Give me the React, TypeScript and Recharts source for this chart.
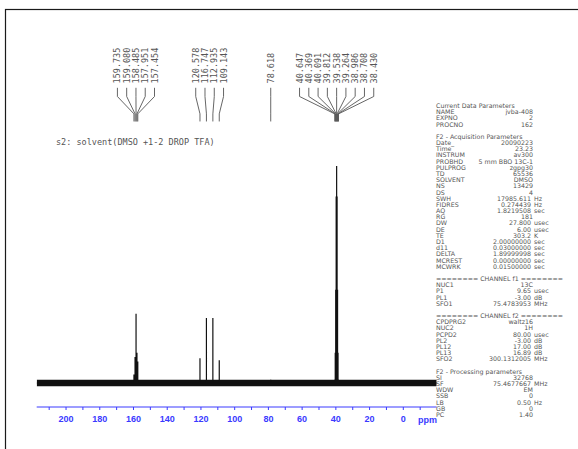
import React from 'react';
import { ComposedChart, Line, Scatter, XAxis, YAxis } from 'recharts';

// picked 13C shifts (ppm), left to right, with peak heights (DMSO centre line = 100)
const carbonylShifts = [159.735, 159.08, 158.485, 157.951, 157.454];
const carbonylHeights = [4, 12, 32, 14, 10];
const cf3Shifts = [120.578, 116.747, 112.935, 109.143];
const cf3Heights = [11.5, 30, 30, 10.5];
const singleShifts = [78.618];
const singleHeights = [1.5];
const dmsoShifts = [40.647, 40.369, 40.091, 39.812, 39.538, 39.264, 38.986, 38.708, 38.43];
const dmsoHeights = [1.5, 14, 43, 86, 100, 86, 43, 14, 1.5];

const ppmTicks = [210, 200, 190, 180, 170, 160, 150, 140, 130, 120, 110, 100, 90, 80, 70, 60, 50, 40, 30, 20, 10, 0, -10];
const ppmLabels = [200, 180, 160, 140, 120, 100, 80, 60, 40, 20, 0];

const titleText = 's2: solvent(DMSO +1-2 DROP TFA)';

const paramRows: string[][] = [
  ['Current Data Parameters'],
  ['NAME', 'jvba-408'],
  ['EXPNO', '2'],
  ['PROCNO', '162'],
  [],
  ['F2 - Acquisition Parameters'],
  ['Date_', '20090223'],
  ['Time', '23.23'],
  ['INSTRUM', 'av300'],
  ['PROBHD', '5 mm BBO 13C-1'],
  ['PULPROG', 'zgpg30'],
  ['TD', '65536'],
  ['SOLVENT', 'DMSO'],
  ['NS', '13429'],
  ['DS', '4'],
  ['SWH', '17985.611', 'Hz'],
  ['FIDRES', '0.274439', 'Hz'],
  ['AQ', '1.8219508', 'sec'],
  ['RG', '181'],
  ['DW', '27.800', 'usec'],
  ['DE', '6.00', 'usec'],
  ['TE', '303.2', 'K'],
  ['D1', '2.00000000', 'sec'],
  ['d11', '0.03000000', 'sec'],
  ['DELTA', '1.89999998', 'sec'],
  ['MCREST', '0.00000000', 'sec'],
  ['MCWRK', '0.01500000', 'sec'],
  [],
  ['======== CHANNEL f1 ========'],
  ['NUC1', '13C'],
  ['P1', '9.65', 'usec'],
  ['PL1', '-3.00', 'dB'],
  ['SFO1', '75.4783953', 'MHz'],
  [],
  ['======== CHANNEL f2 ========'],
  ['CPDPRG2', 'waltz16'],
  ['NUC2', '1H'],
  ['PCPD2', '80.00', 'usec'],
  ['PL2', '-3.00', 'dB'],
  ['PL12', '17.00', 'dB'],
  ['PL13', '16.89', 'dB'],
  ['SFO2', '300.1312005', 'MHz'],
  [],
  ['F2 - Processing parameters'],
  ['SI', '32768'],
  ['SF', '75.4677667', 'MHz'],
  ['WDW', 'EM'],
  ['SSB', '0'],
  ['LB', '0.50', 'Hz'],
  ['GB', '0'],
  ['PC', '1.40'],
];

const PPM_LEFT = 217.4;
const PPM_RIGHT = -19.8;
const AXIS_BLUE = '#3a3aff';
const LABEL_GAP = 5.5; // ppm between neighbouring peak labels
const LABEL_LEVEL = 138;

const groups = [
  { shifts: carbonylShifts, heights: carbonylHeights },
  { shifts: cf3Shifts, heights: cf3Heights },
  { shifts: singleShifts, heights: singleHeights },
  { shifts: dmsoShifts, heights: dmsoHeights },
];

const baseline = [
  { ppm: PPM_LEFT, v: 0 },
  { ppm: PPM_RIGHT, v: 0 },
];

// each peak as a spike up from the baseline and back down
const peakTrace: { ppm: number; v: number }[] = [{ ppm: PPM_LEFT, v: 0 }];
groups.forEach((g) =>
  g.shifts.forEach((ppm, i) => {
    peakTrace.push({ ppm, v: 0 }, { ppm, v: g.heights[i] }, { ppm, v: 0 });
  })
);
peakTrace.push({ ppm: PPM_RIGHT, v: 0 });

// fanned-out shift labels and the leader lines back to each peak
const labelPoints: { ppm: number; v: number; text: string }[] = [];
const leaders: { ppm: number; v: number | null }[] = [];
groups.forEach((g) => {
  const centre = g.shifts.reduce((a, b) => a + b, 0) / g.shifts.length;
  const mid = (g.shifts.length - 1) / 2;
  g.shifts.forEach((ppm, i) => {
    const lx = centre + (mid - i) * LABEL_GAP;
    labelPoints.push({ ppm: lx, v: LABEL_LEVEL, text: ppm.toFixed(3) });
    leaders.push(
      { ppm: lx, v: 136 },
      { ppm: lx, v: 132 },
      { ppm, v: 124 },
      { ppm, v: 120.5 },
      { ppm, v: null }
    );
  });
});

const PpmTick = (props: any) => {
  const { x, y, payload } = props;
  if (!ppmLabels.includes(payload.value)) return <g />;
  return (
    <text
      x={x}
      y={y + 10}
      textAnchor="middle"
      fill={AXIS_BLUE}
      fontFamily="Liberation Sans, Arial, sans-serif"
      fontWeight="bold"
      fontSize={9}
    >
      {payload.value}
    </text>
  );
};

const ShiftLabel = (props: any) => {
  const { cx, cy, payload } = props;
  return (
    <text
      x={cx}
      y={cy}
      transform={`rotate(-90 ${cx} ${cy})`}
      dominantBaseline="central"
      fill="#555"
      fontFamily="DejaVu Sans Mono, monospace"
      fontSize={8.5}
    >
      {payload.text}
    </text>
  );
};

const ParamBlock = () => {
  const top = 106;
  const step = 6.18;
  const font = { fontFamily: 'DejaVu Sans, sans-serif', fontSize: 6.3, fill: '#555' };
  return (
    <g>
      {paramRows.map((row, i) => {
        const y = top + i * step + 2;
        if (row.length === 0) return null;
        if (row.length === 1)
          return (
            <text key={i} x={436} y={y} {...font}>
              {row[0]}
            </text>
          );
        return (
          <g key={i}>
            <text x={436} y={y} {...font}>
              {row[0]}
            </text>
            <text x={row[2] ? 531 : 533} y={y} textAnchor="end" {...font}>
              {row[1]}
            </text>
            {row[2] && (
              <text x={534} y={y} {...font}>
                {row[2]}
              </text>
            )}
          </g>
        );
      })}
    </g>
  );
};

export default function App() {
  return (
    <div style={{ position: 'absolute', left: 0, top: 0, width: 578, height: 449, background: '#fff' }}>
      <div style={{ position: 'absolute', left: 0, top: 0 }}>
        <ComposedChart width={578} height={449} margin={{ top: 20.5, right: 141.3, bottom: 12, left: 36.7 }}>
          <XAxis
            type="number"
            dataKey="ppm"
            domain={[PPM_RIGHT, PPM_LEFT]}
            reversed
            allowDataOverflow
            ticks={ppmTicks}
            interval={0}
            height={30}
            tickSize={3}
            axisLine={{ stroke: AXIS_BLUE }}
            tickLine={{ stroke: AXIS_BLUE }}
            tick={<PpmTick />}
          />
          <YAxis type="number" hide domain={[-11, 167]} allowDataOverflow />
          <Line
            data={baseline}
            dataKey="v"
            stroke="#111"
            strokeWidth={6.5}
            dot={false}
            isAnimationActive={false}
          />
          <Line
            data={peakTrace}
            dataKey="v"
            stroke="#111"
            strokeWidth={1.2}
            dot={false}
            isAnimationActive={false}
          />
          <Line
            data={leaders}
            dataKey="v"
            stroke="#555"
            strokeWidth={0.9}
            dot={false}
            isAnimationActive={false}
          />
          <Scatter data={labelPoints} dataKey="v" shape={<ShiftLabel />} isAnimationActive={false} />
        </ComposedChart>
      </div>
      <svg
        width={578}
        height={449}
        style={{ position: 'absolute', left: 0, top: 0, pointerEvents: 'none' }}
      >
        <rect x={5.5} y={9.5} width={600} height={460} fill="none" stroke="#1a1a1a" strokeWidth={1.2} />
        <text x={56} y={145} fill="#555" fontFamily="DejaVu Sans Mono, monospace" fontSize={8.5}>
          {titleText}
        </text>
        <text
          x={418}
          y={423}
          fill={AXIS_BLUE}
          fontFamily="Liberation Sans, Arial, sans-serif"
          fontWeight="bold"
          fontSize={9}
        >
          ppm
        </text>
        <ParamBlock />
      </svg>
    </div>
  );
}
